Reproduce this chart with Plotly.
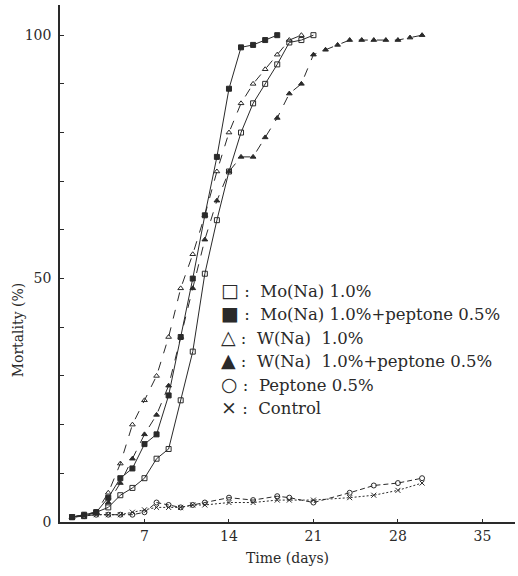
import plotly.graph_objects as go

# Days after treatment and mortality (%) for each treatment group
mo_na_days = [1, 2, 3, 4, 5, 6, 7, 8, 9, 10, 11, 12, 13, 14, 15, 16, 17, 18, 19, 20, 21]
mo_na_mort = [1, 1.2, 2, 3, 5.5, 7, 9, 13, 15, 25, 35, 51, 62, 72, 80, 86, 90, 94, 98.5, 99, 100]

mo_pep_days = [1, 2, 3, 4, 5, 6, 7, 8, 9, 10, 11, 12, 13, 14, 15, 16, 17, 18]
mo_pep_mort = [1, 1.5, 2, 5, 9, 11, 16, 18, 26, 38, 50, 63, 75, 89, 97.5, 98, 99, 100]

w_na_days = [1, 2, 3, 4, 5, 6, 7, 8, 9, 10, 11, 12, 13, 14, 15, 16, 17, 18, 19, 20]
w_na_mort = [1, 1.5, 2, 6, 12, 20, 25, 30, 38, 48, 55, 63, 72, 80, 86, 90, 93, 96, 99, 100]

w_pep_days = [1, 2, 3, 4, 5, 6, 7, 8, 9, 10, 11, 12, 13, 14, 15, 16, 17, 18, 19, 20,
              21, 22, 23, 24, 25, 26, 27, 28, 29, 30]
w_pep_mort = [1, 1.5, 2, 4, 8, 13, 18, 22, 28, 38, 48, 58, 66, 72, 75, 75, 79, 83, 88, 90,
              96, 97, 98, 99, 99, 99, 99, 99, 99.5, 100]

pep_days = [1, 2, 3, 4, 5, 6, 7, 8, 9, 10, 11, 12, 14, 16, 18, 19, 21, 24, 26, 28, 30]
pep_mort = [1, 1.2, 1.5, 1.5, 1.5, 1.5, 2, 4, 3.5, 3, 3.5, 4, 5, 4.5, 5.3, 5, 4, 6, 7.5, 8, 9]

ctrl_days = [1, 2, 3, 4, 5, 6, 7, 8, 9, 10, 11, 12, 14, 16, 18, 19, 21, 24, 26, 28, 30]
ctrl_mort = [1, 1.2, 1.5, 1.5, 1.5, 2, 2.5, 3, 3, 3, 3.5, 3.5, 4, 4, 4.5, 4.5, 4.5, 5, 5.5, 6.5, 8]

x_ticks = [7, 14, 21, 28, 35]
y_ticks = [0, 50, 100]

legend_symbols = ["□", "■", "△", "▲", "○", "×"]
legend_labels = [
    "Mo(Na) 1.0%",
    "Mo(Na) 1.0%+peptone 0.5%",
    "W(Na)  1.0%",
    "W(Na)  1.0%+peptone 0.5%",
    "Peptone 0.5%",
    "Control",
]

INK = "#2a2a2a"
SERIF = "DejaVu Serif, Liberation Serif, serif"

series = [
    (mo_na_days, mo_na_mort, "square-open", "solid"),
    (mo_pep_days, mo_pep_mort, "square", "solid"),
    (w_na_days, w_na_mort, "triangle-up-open", "dash"),
    (w_pep_days, w_pep_mort, "triangle-up", "dash"),
    (pep_days, pep_mort, "circle-open", "5px,3px"),
    (ctrl_days, ctrl_mort, "x-thin-open", "2px,2px"),
]

fig = go.Figure()
for xs, ys, sym, dash in series:
    fig.add_trace(go.Scatter(
        x=xs, y=ys, mode="lines+markers",
        line=dict(color=INK, width=1, dash=dash),
        marker=dict(symbol=sym, size=5, color=INK, line=dict(color=INK, width=1)),
        showlegend=False, hoverinfo="skip",
    ))

# Key drawn as text lines beside the curves
for i, (s, lab) in enumerate(zip(legend_symbols, legend_labels)):
    fig.add_annotation(
        xref="paper", yref="paper", x=0.349, y=0.449 - i * 0.0455,
        xanchor="left", yanchor="middle", showarrow=False,
        text=f"<span style='font-size:19px'>{s}</span> :  {lab}",
        font=dict(family=SERIF, size=16.5, color=INK),
    )

fig.add_annotation(
    xref="paper", yref="paper", x=-0.092, y=0.371, xanchor="center", yanchor="middle",
    showarrow=False, textangle=-90, text="Mortality (%)",
    font=dict(family=SERIF, size=14, color=INK),
)

fig.update_layout(
    width=518, height=576,
    margin=dict(l=60, r=3, t=5, b=54),
    paper_bgcolor="white", plot_bgcolor="white",
    font=dict(family=SERIF, size=14, color=INK),
    xaxis=dict(
        range=[0, 37.7], tickvals=x_ticks, ticktext=[str(t) for t in x_ticks],
        ticks="inside", ticklen=3, tickcolor=INK, showgrid=False, zeroline=False,
        showline=True, linecolor=INK, linewidth=2,
        title=dict(text="Time (days)", font=dict(family=SERIF, size=14), standoff=10),
    ),
    yaxis=dict(
        range=[0, 106.2], tickvals=y_ticks, ticktext=[str(t) for t in y_ticks],
        ticks="inside", ticklen=4, tickcolor=INK, showgrid=False, zeroline=False,
        showline=True, linecolor=INK, linewidth=1.5, ticklabelstandoff=4,
        minor=dict(dtick=10, ticks="inside", ticklen=4, tickcolor=INK, showgrid=False),
    ),
)

fig.write_html("out.html")
